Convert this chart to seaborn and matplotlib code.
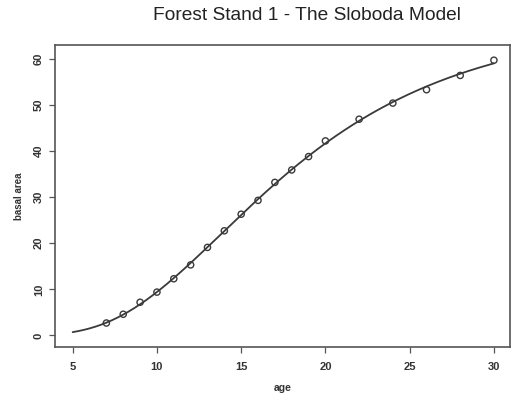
import numpy as np
import pandas as pd
import matplotlib
matplotlib.use("Agg")
import matplotlib.pyplot as plt
import seaborn as sns

# Observed stand measurements
age = [7, 8, 9, 10, 11, 12, 13, 14, 15, 16, 17, 18, 19, 20, 22, 24, 26, 28, 30]
basal_area = [2.7, 4.6, 7.2, 9.4, 12.3, 15.3, 19.1, 22.7, 26.3, 29.3,
              33.2, 35.9, 38.8, 42.2, 46.9, 50.4, 53.3, 56.4, 59.7]

x_ticks = [5, 10, 15, 20, 25, 30]
y_ticks = [0, 10, 20, 30, 40, 50, 60]

obs = pd.DataFrame({"age": age, "basal area": basal_area})


def sloboda(t, p):
    a, b, c, d = p
    return a * np.exp(-b * np.exp(-c * t ** d))


def fit_sloboda(t, y, p0, iters=400):
    """Levenberg-Marquardt least squares for the Sloboda growth curve."""
    p = np.array(p0, dtype=float)
    lam = 1e-2
    def resid(q):
        return y - sloboda(t, q)
    r = resid(p)
    cost = r @ r
    for _ in range(iters):
        J = np.empty((t.size, p.size))
        for k in range(p.size):
            h = 1e-6 * max(abs(p[k]), 1e-3)
            dp = p.copy()
            dp[k] += h
            J[:, k] = (sloboda(t, dp) - sloboda(t, p)) / h
        A = J.T @ J
        g = J.T @ r
        step = np.linalg.solve(A + lam * np.diag(np.diag(A)), g)
        cand = p + step
        rc = resid(cand)
        cc = rc @ rc
        if np.isfinite(cc) and cc < cost:
            p, r, cost = cand, rc, cc
            lam *= 0.3
        else:
            lam *= 10
        if lam > 1e12:
            break
    return p


t_obs = np.asarray(age, dtype=float)
y_obs = np.asarray(basal_area, dtype=float)
params = fit_sloboda(t_obs, y_obs, [75.0, 6.85, 0.1125, 1.0])

t_fit = np.linspace(5, 30, 300)
fit = pd.DataFrame({"age": t_fit, "basal area": sloboda(t_fit, params)})

sns.set_theme(style="white")
plt.rcParams["font.family"] = ["Liberation Sans", "DejaVu Sans"]

fig = plt.figure(figsize=(5.13, 4.01), dpi=100)
ax = fig.add_axes([0.1072, 0.1347, 0.8868, 0.7531])

sns.lineplot(data=fit, x="age", y="basal area", ax=ax, color="#3a3a3a",
             linewidth=1.3, estimator=None)
sns.scatterplot(data=obs, x="age", y="basal area", ax=ax, marker="o",
                s=20, facecolor="none", edgecolor="#3a3a3a", linewidth=1.0)

ax.set_xlim(3.95, 30.95)
ax.set_ylim(-2.5, 63)
ax.set_xticks(x_ticks)
ax.set_yticks(y_ticks)
ax.set_xticklabels([str(v) for v in x_ticks], fontsize=8, fontweight="bold",
                   color="#333333")
ax.set_yticklabels([str(v) for v in y_ticks], fontsize=8, fontweight="bold",
                   color="#333333", rotation=90, va="center")
ax.tick_params(axis="x", direction="out", length=4, width=0.9,
               color="#555555", bottom=True, pad=7)
ax.tick_params(axis="y", direction="out", length=4, width=0.9,
               color="#555555", left=True, pad=4)

for side in ax.spines.values():
    side.set_visible(True)
    side.set_color("#555555")
    side.set_linewidth(1.2)

ax.set_xlabel("age", fontsize=7.5, fontweight="bold", color="#333333", labelpad=8)
ax.set_ylabel("basal area", fontsize=7, fontweight="bold", color="#333333", labelpad=7)
fig.text(0.598, 0.962, "Forest Stand 1 - The Sloboda Model", ha="center",
         va="center", fontsize=13.8, color="#222222")

fig.savefig("out.png", dpi=100, facecolor="white")
